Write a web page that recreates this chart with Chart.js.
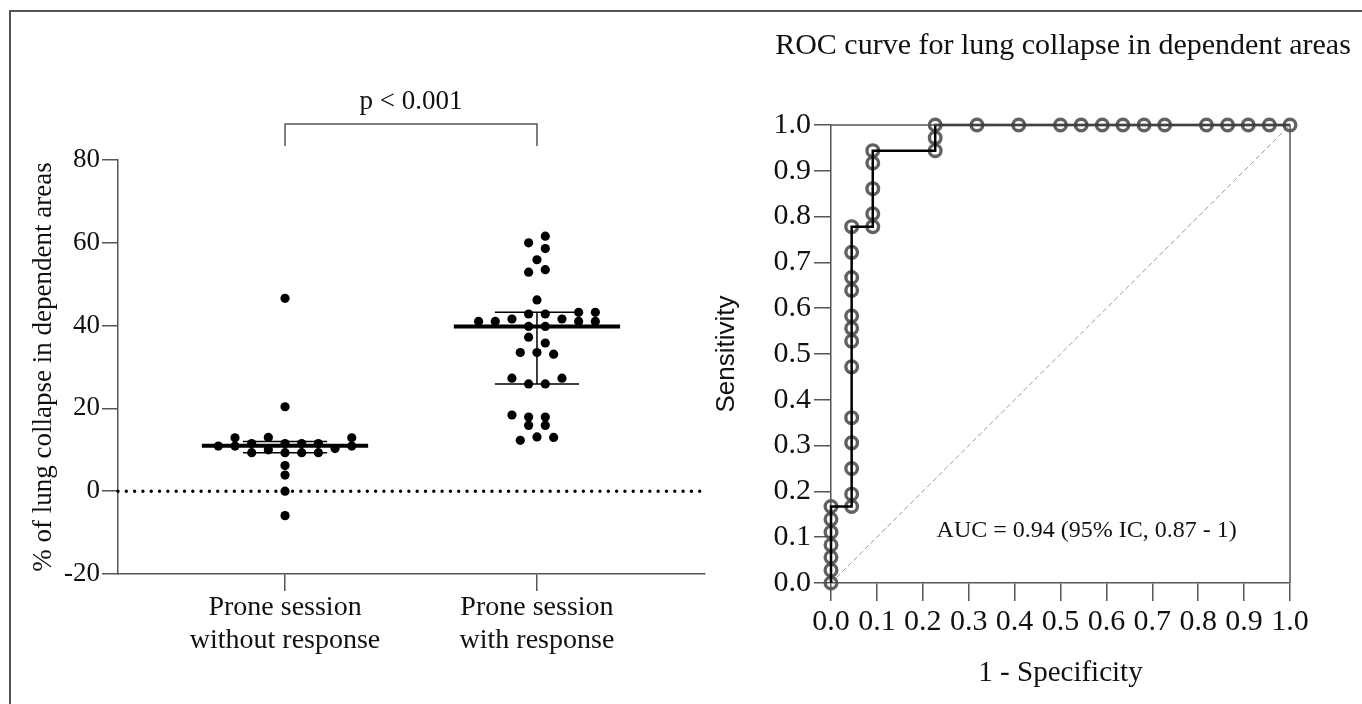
<!DOCTYPE html>
<html>
<head>
<meta charset="utf-8">
<script src="https://cdn.jsdelivr.net/npm/chart.js@4.4.1/dist/chart.umd.min.js"></script>
<style>
  html, body { margin: 0; padding: 0; background: #fff; width: 1362px; height: 704px; overflow: hidden; position: relative; }
  #frame { position: absolute; left: 9px; top: 10px; right: -4px; bottom: -4px; border-left: 2px solid #555; border-top: 2px solid #555; }
  canvas { position: absolute; top: 0; }
  #left-chart { left: 0; }
  #roc-chart { left: 690px; }
</style>
</head>
<body>
<div id="frame"></div>
<canvas id="left-chart" width="720" height="704"></canvas>
<canvas id="roc-chart" width="672" height="704"></canvas>
<script>
// --- Panneau gauche : % de collapsus par groupe ---
const groupLabels = [['Prone session', 'without response'], ['Prone session', 'with response']];
const yAxisTitle = '% of lung collapse in dependent areas';
const pLabel = 'p < 0.001';

// valeurs, décalage horizontal en "demi-pas" de point
const noRespValues = [46.6, 20.4, 12.9, 13.0, 12.9, 10.9, 10.9, 11.5, 11.5, 11.5, 11.5, 10.3, 10.9, 9.3, 10.0, 9.3, 9.3, 9.3, 6.2, 3.9, 0.0, -5.9];
const noRespOffsets = [0, 0, -6, -2, 8, -8, -6, -4, 0, 2, 4, 6, 8, -4, -2, 0, 2, 4, 0, 0, 0, 0];
const respValues = [61.6, 60.0, 58.6, 55.9, 52.9, 53.5, 46.2, 42.8, 42.8, 43.2, 43.2, 41.0, 41.0, 41.6, 41.6, 41.0, 41.0, 39.8, 39.8, 37.2, 35.8, 33.5, 33.5, 33.1, 27.3, 27.3, 25.9, 25.9, 18.4, 17.9, 17.9, 15.9, 15.9, 12.3, 13.1, 13.0];
const respOffsets = [1, -1, 1, 0, -1, 1, 0, -1, 1, 5, 7, -7, -5, -3, 3, 5, 7, -1, 1, -1, 1, -2, 0, 2, -3, 3, -1, 1, -3, -1, 1, -1, 1, -2, 0, 2];

// médiane + interquartiles
const medians = [11.0, 39.8];
const q1 = [9.3, 25.9];
const q3 = [12.0, 43.2];

// --- Panneau droit : courbe ROC ---
const rocTitle = 'ROC curve for lung collapse in dependent areas';
const aucLabel = 'AUC = 0.94 (95% IC, 0.87 - 1)';
const rocFpr = [0, 0, 0, 0, 0, 0, 0,
  0.045, 0.045, 0.045, 0.045, 0.045, 0.045, 0.045, 0.045, 0.045, 0.045, 0.045, 0.045, 0.045,
  0.091, 0.091, 0.091, 0.091, 0.091,
  0.227, 0.227, 0.227,
  0.318, 0.409, 0.5, 0.545, 0.591, 0.636, 0.682, 0.727, 0.818, 0.864, 0.909, 0.955, 1.0];
const rocSens = [0, 0.028, 0.056, 0.083, 0.111, 0.139, 0.167,
  0.167, 0.194, 0.25, 0.306, 0.361, 0.472, 0.528, 0.556, 0.583, 0.639, 0.667, 0.722, 0.778,
  0.778, 0.806, 0.861, 0.917, 0.944,
  0.944, 0.972, 1.0,
  1, 1, 1, 1, 1, 1, 1, 1, 1, 1, 1, 1, 1];

const SERIF = '"Liberation Serif", "Times New Roman", serif';
const SANS = '"Liberation Sans", Arial, sans-serif';
const INK = '#111';
const AXIS = '#555';
Chart.defaults.font.family = SERIF;
Chart.defaults.color = INK;

const axisStyle = (tickLength) => ({
  grid: { display: true, drawOnChartArea: false, drawTicks: true, tickLength, color: AXIS, lineWidth: 1.5 },
  border: { display: true, color: AXIS, width: 1.5 },
});
const seg = (x1, y1, x2, y2, width) => ({
  data: [{ x: x1, y: y1 }, { x: x2, y: y2 }], showLine: true, pointRadius: 0,
  borderColor: '#000', borderWidth: width, clip: false,
});

const DOT_STEP = 0.0331; // écart horizontal entre points voisins (unités de l'axe)
const dots = (vals, offs, center) => vals.map((v, i) => ({ x: center + offs[i] * DOT_STEP, y: v }));

const statLines = [];
medians.forEach((m, i) => {
  const c = i + 1;
  statLines.push(seg(c - 0.33, m, c + 0.33, m, 4));
  statLines.push(seg(c - 0.167, q1[i], c + 0.167, q1[i], 1.5));
  statLines.push(seg(c - 0.167, q3[i], c + 0.167, q3[i], 1.5));
  statLines.push(seg(c, q1[i], c, q3[i], 1.5));
});

const bracketPlugin = {
  id: 'bracket',
  afterDraw(chart) {
    const { ctx, scales: { x } } = chart;
    const x1 = x.getPixelForValue(1), x2 = x.getPixelForValue(2);
    ctx.save();
    ctx.strokeStyle = AXIS; ctx.lineWidth = 1.5;
    ctx.beginPath(); ctx.moveTo(x1, 146); ctx.lineTo(x1, 124); ctx.lineTo(x2, 124); ctx.lineTo(x2, 146); ctx.stroke();
    ctx.fillStyle = INK; ctx.font = `27px ${SERIF}`; ctx.textAlign = 'center'; ctx.textBaseline = 'alphabetic';
    ctx.fillText(pLabel, (x1 + x2) / 2, 109);
    ctx.restore();
  },
};

new Chart(document.getElementById('left-chart'), {
  type: 'scatter',
  data: {
    datasets: [
      ...statLines,
      { data: dots(noRespValues, noRespOffsets, 1), pointRadius: 4.6, pointBackgroundColor: '#000', pointBorderWidth: 0, clip: false },
      { data: dots(respValues, respOffsets, 2), pointRadius: 4.6, pointBackgroundColor: '#000', pointBorderWidth: 0, clip: false },
      { data: [{ x: 0.337, y: 0 }, { x: 2.667, y: 0 }], showLine: true, pointRadius: 0, borderColor: '#000',
        borderWidth: 3.4, borderDash: [0.01, 8.3], borderCapStyle: 'round', clip: false },
    ],
  },
  options: {
    responsive: false, animation: false,
    layout: { padding: { top: 160, right: 15, bottom: 24, left: 0 } },
    plugins: { legend: { display: false }, tooltip: { enabled: false } },
    scales: {
      x: {
        type: 'linear', min: 0.337, max: 2.667, ...axisStyle(17),
        afterBuildTicks: (s) => { s.ticks = [{ value: 1 }, { value: 2 }]; },
        afterFit: (s) => { s.height = 106; },
        ticks: { autoSkip: false, maxRotation: 0, minRotation: 0, padding: 0, color: INK,
          font: { size: 28, lineHeight: 1.18 }, callback: (v, i) => groupLabels[i] },
      },
      y: {
        min: -20, max: 80, ...axisStyle(16),
        afterFit: (s) => { s.width = 118; },
        ticks: { stepSize: 20, padding: 2, color: INK, font: { size: 27 } },
        title: { display: true, text: yAxisTitle, color: INK, font: { size: 27 }, padding: { top: 28, bottom: 0 } },
      },
    },
  },
  plugins: [bracketPlugin],
});

const rocDecor = {
  id: 'rocDecor',
  afterDraw(chart) {
    const { ctx, chartArea: a, scales: { x, y } } = chart;
    ctx.save();
    ctx.strokeStyle = AXIS; ctx.lineWidth = 1.5;
    ctx.beginPath(); ctx.moveTo(a.left, a.top); ctx.lineTo(a.right, a.top); ctx.lineTo(a.right, a.bottom); ctx.stroke();
    ctx.fillStyle = INK; ctx.textAlign = 'center';
    ctx.font = `30px ${SERIF}`; ctx.textBaseline = 'alphabetic';
    ctx.fillText(rocTitle, 373, 54);
    ctx.font = `24px ${SERIF}`; ctx.textBaseline = 'middle';
    ctx.fillText(aucLabel, x.getPixelForValue(0.557), y.getPixelForValue(0.115));
    ctx.restore();
  },
};

const rocPoints = rocFpr.map((f, i) => ({ x: f, y: rocSens[i] }));

new Chart(document.getElementById('roc-chart'), {
  type: 'scatter',
  data: {
    datasets: [
      { data: rocPoints, showLine: true, pointRadius: 0, borderColor: '#000', borderWidth: 2.5, clip: false },
      { data: rocPoints, pointRadius: 5.8, pointBorderWidth: 3.4, pointBorderColor: 'rgba(80,80,80,0.9)',
        pointBackgroundColor: 'rgba(0,0,0,0)', clip: false },
      { data: [{ x: 0, y: 0 }, { x: 1, y: 1 }], showLine: true, pointRadius: 0, borderColor: '#999',
        borderWidth: 1, borderDash: [5, 3] },
    ],
  },
  options: {
    responsive: false, animation: false,
    layout: { padding: { top: 125, right: 72, bottom: 9, left: 0 } },
    plugins: { legend: { display: false }, tooltip: { enabled: false } },
    scales: {
      x: {
        type: 'linear', min: 0, max: 1, ...axisStyle(18),
        afterFit: (s) => { s.height = 112; },
        ticks: { stepSize: 0.1, autoSkip: false, maxRotation: 0, minRotation: 0, padding: 3, color: INK,
          font: { size: 30 }, callback: (v) => v.toFixed(1) },
        title: { display: true, text: '1 - Specificity', color: INK, font: { size: 29 }, padding: { top: 0, bottom: 4 } },
      },
      y: {
        min: 0, max: 1, ...axisStyle(17),
        afterFit: (s) => { s.width = 141; },
        ticks: { stepSize: 0.1, padding: 3, color: INK, font: { size: 30 }, callback: (v) => v.toFixed(1) },
        title: { display: true, text: 'Sensitivity', color: INK, font: { size: 26, family: SANS }, padding: { top: 21, bottom: 0 } },
      },
    },
  },
  plugins: [rocDecor],
});
</script>
</body>
</html>
